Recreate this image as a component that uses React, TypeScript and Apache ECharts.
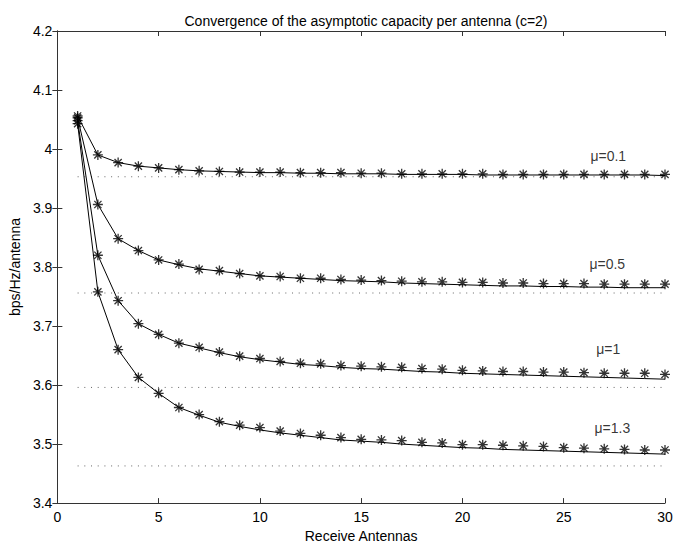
import React, { useEffect, useRef } from "react";
import * as echarts from "echarts";

const antennas = Array.from({ length: 30 }, (_, i) => i + 1);

const mu01Sim = [4.056, 3.990, 3.977, 3.971, 3.968, 3.965, 3.963, 3.962, 3.961, 3.961, 3.961, 3.960, 3.960, 3.960, 3.959, 3.959, 3.958, 3.958, 3.958, 3.958, 3.958, 3.957, 3.957, 3.957, 3.957, 3.957, 3.957, 3.957, 3.957, 3.957];
const mu01Line = [4.056, 3.990, 3.977, 3.971, 3.968, 3.965, 3.963, 3.962, 3.961, 3.960, 3.960, 3.959, 3.959, 3.958, 3.958, 3.958, 3.957, 3.957, 3.957, 3.957, 3.956, 3.956, 3.956, 3.956, 3.956, 3.956, 3.956, 3.956, 3.956, 3.955];

const mu05Sim = [4.053, 3.906, 3.848, 3.828, 3.812, 3.805, 3.796, 3.794, 3.789, 3.785, 3.784, 3.781, 3.781, 3.779, 3.778, 3.777, 3.776, 3.775, 3.775, 3.774, 3.774, 3.773, 3.773, 3.772, 3.772, 3.772, 3.771, 3.771, 3.771, 3.771];
const mu05Line = [4.053, 3.906, 3.848, 3.828, 3.812, 3.804, 3.797, 3.793, 3.789, 3.785, 3.783, 3.781, 3.779, 3.777, 3.776, 3.775, 3.773, 3.772, 3.771, 3.770, 3.769, 3.768, 3.768, 3.767, 3.767, 3.766, 3.766, 3.765, 3.765, 3.765];

const mu1Sim = [4.048, 3.820, 3.743, 3.704, 3.686, 3.671, 3.664, 3.656, 3.649, 3.645, 3.640, 3.637, 3.636, 3.633, 3.632, 3.631, 3.630, 3.628, 3.627, 3.625, 3.624, 3.623, 3.623, 3.622, 3.622, 3.621, 3.620, 3.620, 3.620, 3.618];
const mu1Line = [4.048, 3.820, 3.743, 3.704, 3.686, 3.671, 3.663, 3.655, 3.648, 3.643, 3.639, 3.635, 3.633, 3.630, 3.628, 3.627, 3.625, 3.623, 3.622, 3.620, 3.619, 3.618, 3.617, 3.616, 3.615, 3.614, 3.613, 3.612, 3.611, 3.610];

const mu13Sim = [4.043, 3.758, 3.660, 3.613, 3.586, 3.562, 3.550, 3.538, 3.532, 3.528, 3.522, 3.518, 3.515, 3.511, 3.508, 3.507, 3.506, 3.503, 3.502, 3.499, 3.499, 3.498, 3.497, 3.496, 3.494, 3.493, 3.492, 3.491, 3.490, 3.490];
const mu13Line = [4.043, 3.758, 3.660, 3.613, 3.586, 3.562, 3.549, 3.537, 3.530, 3.524, 3.519, 3.515, 3.511, 3.507, 3.505, 3.503, 3.500, 3.498, 3.496, 3.494, 3.493, 3.491, 3.490, 3.489, 3.488, 3.487, 3.486, 3.485, 3.484, 3.483];

const asymptotes = [3.953, 3.756, 3.596, 3.463];
const asymptoteRange = [1, 30];

const curveLabels = ["μ=0.1", "μ=0.5", "μ=1", "μ=1.3"];
const labelX = [27.2, 27.15, 27.2, 27.4];
const labelY = [3.988, 3.806, 3.661, 3.527];

const xTicks = { min: 0, max: 30, interval: 5 };
const yTicks = { min: 3.4, max: 4.2, interval: 0.1 };

const FONT = "'Liberation Sans', Arial, Helvetica, sans-serif";
const ASTERISK = "path://M0,-5L0,5M-5,0L5,0M-3.6,-3.6L3.6,3.6M-3.6,3.6L3.6,-3.6";

export default function App() {
  const ref = useRef<HTMLDivElement>(null);
  useEffect(() => {
    if (!ref.current) return;
    const chart = echarts.init(ref.current, null, { renderer: "svg", width: 686, height: 548 });
    const axisColor = "#333";
    const textStyle = { fontFamily: FONT, fontSize: 14, color: "#000" };
    const sims = [mu01Sim, mu05Sim, mu1Sim, mu13Sim];
    const lines = [mu01Line, mu05Line, mu1Line, mu13Line];
    const series: any[] = [];
    lines.forEach((l) => {
      series.push({
        type: "line",
        data: antennas.map((x, i) => [x, l[i]]),
        symbol: "none",
        lineStyle: { color: "#000", width: 1 },
        silent: true,
        z: 3,
      });
    });
    sims.forEach((s) => {
      series.push({
        type: "scatter",
        data: antennas.map((x, i) => [x, s[i]]),
        symbol: ASTERISK,
        symbolSize: 10,
        itemStyle: { color: "none", borderColor: "#000", borderWidth: 1.3 },
        silent: true,
        z: 4,
      });
    });
    asymptotes.forEach((a) => {
      series.push({
        type: "line",
        data: asymptoteRange.map((x) => [x, a]),
        symbol: "none",
        lineStyle: { color: "#666", width: 1, type: [1, 5.7] },
        silent: true,
        z: 2,
      });
    });
    series.push({
      type: "scatter",
      data: curveLabels.map((n, i) => ({ name: n, value: [labelX[i], labelY[i]] })),
      symbolSize: 0,
      label: {
        show: true,
        position: "inside",
        formatter: (p: any) => p.name,
        ...textStyle,
      },
      silent: true,
      z: 5,
    });

    const tickCommon = { show: true, inside: true, length: 5, lineStyle: { color: axisColor } };
    chart.setOption({
      animation: false,
      backgroundColor: "#fff",
      title: {
        text: "Convergence of the asymptotic capacity per antenna (c=2)",
        left: 361,
        textAlign: "center",
        top: 9,
        textStyle: { ...textStyle, fontWeight: "normal" },
      },
      grid: { left: 57, top: 31, width: 608, height: 480, containLabel: false },
      xAxis: [
        {
          type: "value",
          ...xTicks,
          name: "Receive Antennas",
          nameLocation: "middle",
          nameGap: 22,
          nameTextStyle: textStyle,
          axisLine: { show: true, lineStyle: { color: axisColor } },
          axisTick: tickCommon,
          axisLabel: { ...textStyle, margin: 7 },
          splitLine: { show: false },
        },
        {
          type: "value",
          ...xTicks,
          position: "top",
          axisLine: { show: true, lineStyle: { color: axisColor } },
          axisTick: tickCommon,
          axisLabel: { show: false },
          splitLine: { show: false },
        },
      ],
      yAxis: [
        {
          type: "value",
          ...yTicks,
          name: "bps/Hz/antenna",
          nameLocation: "middle",
          nameGap: 30,
          nameTextStyle: textStyle,
          axisLine: { show: true, lineStyle: { color: axisColor } },
          axisTick: tickCommon,
          axisLabel: {
            ...textStyle,
            margin: 5,
            formatter: (v: number) => String(parseFloat(v.toFixed(1))),
          },
          splitLine: { show: false },
        },
        {
          type: "value",
          ...yTicks,
          position: "right",
          axisLine: { show: true, lineStyle: { color: axisColor } },
          axisTick: tickCommon,
          axisLabel: { show: false },
          splitLine: { show: false },
        },
      ],
      series,
    });
    return () => chart.dispose();
  }, []);
  return (
    <div
      ref={ref}
      style={{ position: "absolute", left: 0, top: 0, width: 686, height: 548 }}
    />
  );
}
